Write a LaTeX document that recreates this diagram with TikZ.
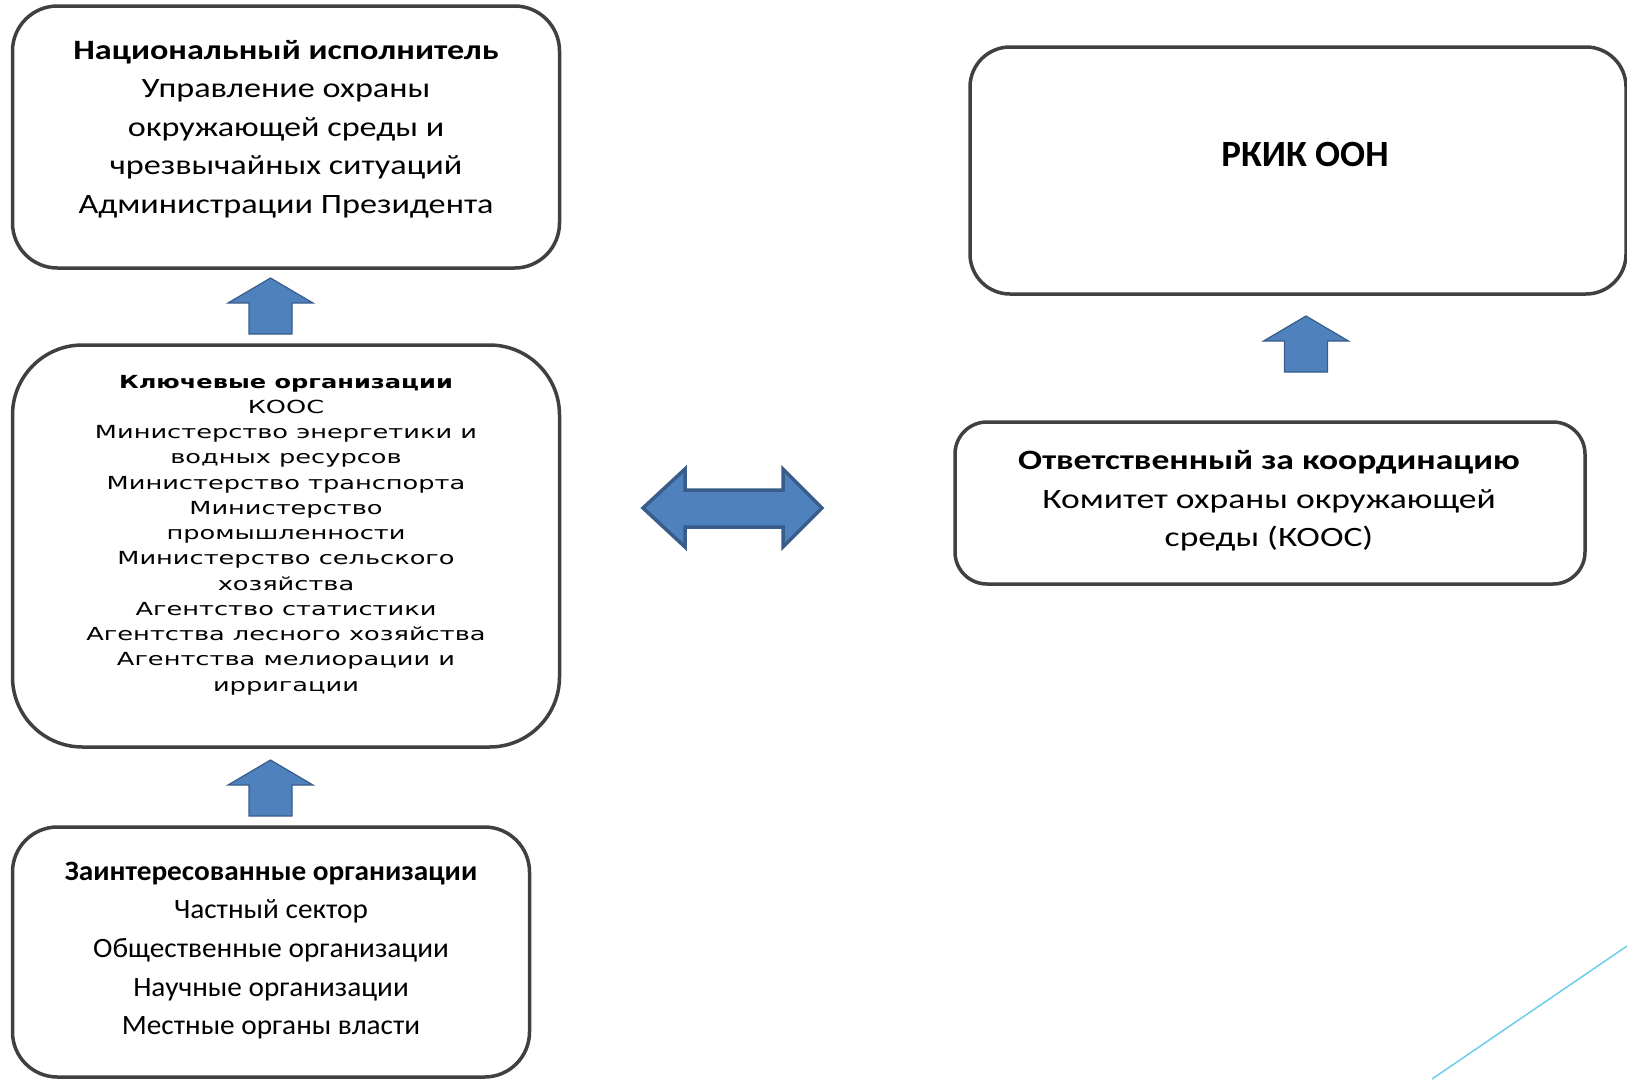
\documentclass[tikz,border=0pt]{standalone}
\usepackage{fontspec}
\setmainfont{Carlito}
\newfontfamily\widefont[FakeStretch=1.425, BoldFeatures={FakeStretch=1.34}]{DejaVu Sans}
\newfontfamily\natfont[FakeStretch=1.22]{Carlito}
\newfontfamily\coordfont[FakeStretch=1.27]{Carlito}
\newfontfamily\stakefont[FakeStretch=1.045]{Carlito}
\definecolor{boxgray}{HTML}{404040}
\definecolor{arrfill}{HTML}{4F81BD}
\definecolor{arrline}{HTML}{385D8A}
\definecolor{decoline}{HTML}{6CCDEA}
\tikzset{
  box/.style={draw=boxgray, line width=3.5pt, inner sep=0pt, fill=white},
  txt/.style={align=center, inner sep=0pt, font=\fontsize{28}{38.6}\selectfont},
  keytxt/.style={align=center, inner sep=0pt, font=\widefont\fontsize{18}{25.25}\selectfont},
  blockarrow/.style={fill=arrfill, draw=arrline, line width=1.2pt, line join=miter},
  pics/uparrow/.style={code={
    \path[blockarrow] (0,0) -- (42.5,25) -- (21.5,25) -- (21.5,56) -- (-21.5,56) -- (-21.5,25) -- (-42.5,25) -- cycle;
  }}
}
\begin{document}
\begin{tikzpicture}[x=1pt,y=-1pt]
\useasboundingbox (0,0) rectangle (1627,1079);

% boxes
\node[box, rounded corners=45pt, minimum width=547pt, minimum height=262pt] (nat) at (286,137) {};
\node[box, rounded corners=70pt, minimum width=547pt, minimum height=402pt] (key) at (286,546) {};
\node[box, rounded corners=45pt, minimum width=517pt, minimum height=250pt] (stake) at (271,952) {};
\node[box, rounded corners=40pt, minimum width=656pt, minimum height=247pt] (unf) at (1298,170.5) {};
\node[box, rounded corners=32pt, minimum width=630pt, minimum height=162pt] (coord) at (1270,503) {};

% texts
\node[txt, font=\natfont\fontsize{28}{38.6}\selectfont] (natT) at (286,129) {\textbf{Национальный исполнитель}\\Управление охраны\\окружающей среды и\\чрезвычайных ситуаций\\Администрации Президента};
\node[keytxt] (keyT) at (286,535) {\textbf{Ключевые организации}\\КООС\\Министерство энергетики и\\водных ресурсов\\Министерство транспорта\\Министерство\\промышленности\\Министерство сельского\\хозяйства\\Агентство статистики\\Агентства лесного хозяйства\\Агентства мелиорации и\\ирригации};
\node[txt, font=\stakefont\fontsize{28}{38.6}\selectfont] (stakeT) at (271,950.5) {\textbf{Заинтересованные организации}\\Частный сектор\\Общественные организации\\Научные организации\\Местные органы власти};
\node[inner sep=0pt, font=\bfseries\fontsize{37}{44}\selectfont] (unfT) at (1305,154) {РКИК ООН};
\node[txt, font=\coordfont\fontsize{28}{38.6}\selectfont] (coordT) at (1269,501) {\textbf{Ответственный за координацию}\\Комитет охраны окружающей\\среды (КООС)};

% block arrows
\pic at (270.5,278) {uparrow};
\pic at (270.5,760) {uparrow};
\pic at (1306,316) {uparrow};
\path[blockarrow, line width=3.5pt] (643,508) -- (685,469) -- (685,490) -- (783,490) -- (783,469) -- (822,508) -- (783,547) -- (783,527) -- (685,527) -- (685,547) -- cycle;

% decorative line
\coordinate (d1) at (1432,1079);
\coordinate (d2) at (1627,946);
\draw[decoline, line width=1.5pt] (d1) -- (d2);
\end{tikzpicture}
\end{document}
